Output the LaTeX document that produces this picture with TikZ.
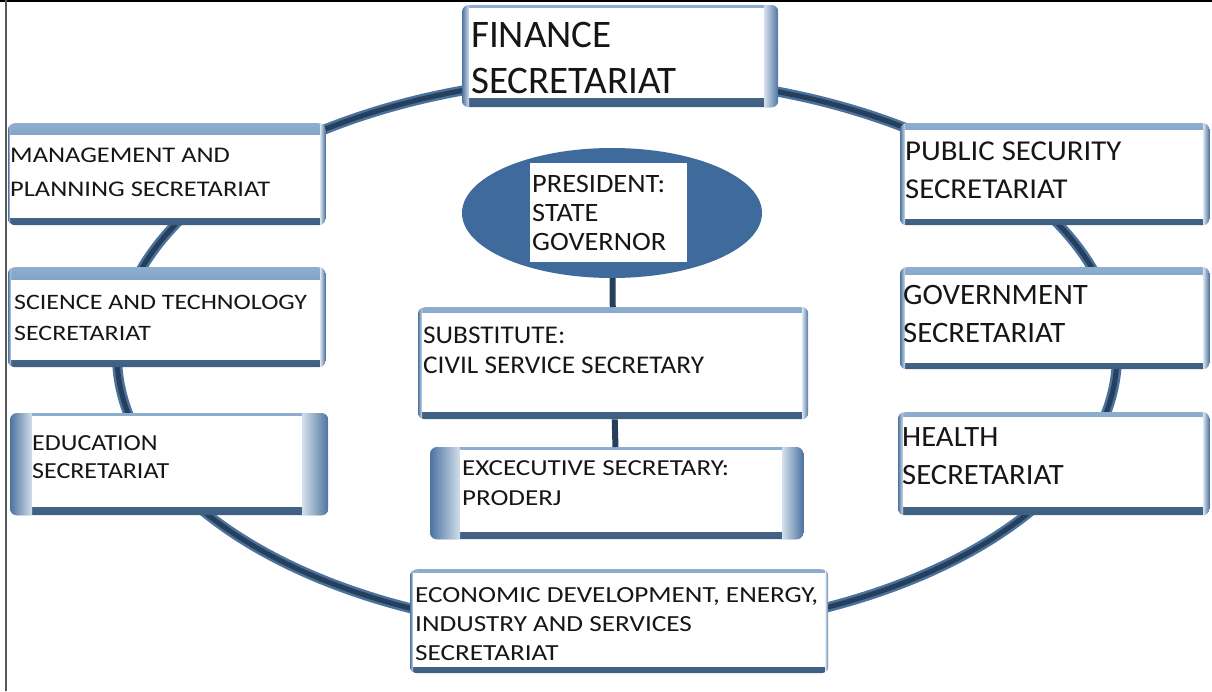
\documentclass[tikz,border=0pt]{standalone}
\usepackage{fontspec}
\setmainfont{Carlito}
\newfontfamily\fa{Carlito}
\newfontfamily\fb[FakeStretch=1.04]{Carlito}
\newfontfamily\fc[FakeStretch=1.07]{Carlito}
\newfontfamily\fd[FakeStretch=1.13]{Carlito}
\newfontfamily\fe[FakeStretch=1.18]{Carlito}
\usetikzlibrary{shapes.geometric,calc}

\definecolor{ringlight}{HTML}{4A729C}
\definecolor{ringdark}{HTML}{253F5C}
\definecolor{frametop}{HTML}{8EAED0}
\definecolor{framebot}{HTML}{3D5E80}
\definecolor{capdark}{HTML}{4D73A0}
\definecolor{caplight}{HTML}{D2DEEA}
\definecolor{presblue}{HTML}{3E6B9C}
\definecolor{ink}{HTML}{161616}

\tikzset{
  secframe/.style={rounded corners=7pt, anchor=north west, inner sep=0pt,
    top color=frametop, bottom color=framebot, draw=none},
  txt/.style={anchor=north west, inner sep=0pt, align=left, text=ink},
  conn/.style={draw=ringdark, line width=6pt},
}

% shaded secretariat box: name, x, y, width, height, left/top/right/bottom rim
\newcommand\secbox[9]{%
  \node[secframe, minimum width=#4pt, minimum height=#5pt] (#1) at (#2,#3) {};
  \begin{scope}
    \clip[rounded corners=7pt] (#1.north west) rectangle (#1.south east);
    \shade[left color=capdark, right color=caplight]
      (#1.north west) rectangle ($(#1.south west)+(#6,0)$);
    \shade[left color=caplight, right color=capdark]
      ($(#1.north east)+(-#8,0)$) rectangle (#1.south east);
  \end{scope}
  \fill[white] ($(#1.north west)+(#6,#7)$) rectangle ($(#1.south east)+(-#8,-#9)$);
}

\begin{document}
\begin{tikzpicture}[x=1pt, y=-1pt]
\useasboundingbox (0,0) rectangle (1212,691);

% page frame
\draw[black, line width=1.5pt] (0,0.75) -- (1212,0.75);
\draw[gray!70!black, line width=2pt] (5.5,0) -- (5.5,691);

% ring linking the secretariats
\draw[ringlight, line width=10pt] (617,355) ellipse [x radius=500, y radius=278];
\draw[ringdark, line width=5pt] (617,355) ellipse [x radius=500, y radius=278];

% president
\node[ellipse, fill=presblue, minimum width=300pt, minimum height=130pt, inner sep=0pt] (pres) at (612,213) {};
\node[fill=white, anchor=north west, inner sep=0pt, minimum width=157pt, minimum height=99pt] (presbg) at (530,163) {};

% boxes
\secbox{fin}{462}{5}{316}{102}{7}{3}{14}{9}
\secbox{mgt}{8}{123}{317}{102}{2}{12}{5}{7}
\secbox{sci}{8}{267}{317}{100}{3}{13}{5}{7}
\secbox{edu}{10}{413}{318}{102}{22}{3}{26}{8}
\secbox{pub}{900}{123}{309}{102}{5}{7}{6}{6}
\secbox{gov}{900}{267}{309}{102}{5}{8}{6}{6}
\secbox{hea}{898}{412}{311}{103}{5}{5}{6}{8}
\secbox{sub}{418}{307}{390}{112}{4}{6}{6}{7}
\secbox{exe}{430}{447}{373}{92}{30}{3}{21}{7}
\secbox{eco}{410}{569}{418}{104}{3}{4}{3}{6}

% hierarchy connectors
\draw[conn] (pres) -- (sub);
\draw[conn] (sub) -- (exe);

% labels
\node[txt, font=\fa\fontsize{39}{46}\selectfont] (fin-t) at (471,22) {FINANCE\\SECRETARIAT};
\node[txt, font=\fe\fontsize{22.4}{34}\selectfont] (mgt-t) at (10,148) {MANAGEMENT AND\\PLANNING SECRETARIAT};
\node[txt, font=\fe\fontsize{22}{31}\selectfont] (sci-t) at (14,295) {SCIENCE AND TECHNOLOGY\\SECRETARIAT};
\node[txt, font=\fd\fontsize{23}{28}\selectfont] (edu-t) at (32,435) {EDUCATION\\SECRETARIAT};
\node[txt, font=\fc\fontsize{28.8}{38}\selectfont] (pub-t) at (905,142) {PUBLIC SECURITY\\SECRETARIAT};
\node[txt, font=\fb\fontsize{29.6}{38}\selectfont] (gov-t) at (903,285) {GOVERNMENT\\SECRETARIAT};
\node[txt, font=\fb\fontsize{29.5}{38}\selectfont] (hea-t) at (902,427) {HEALTH\\SECRETARIAT};
\node[txt, font=\fc\fontsize{26.5}{29}\selectfont] (pres-t) at (532,175) {PRESIDENT:\\STATE\\GOVERNOR};
\node[txt, font=\fc\fontsize{25.5}{30}\selectfont] (sub-t) at (423,327) {SUBSTITUTE:\\CIVIL SERVICE SECRETARY};
\node[txt, font=\fe\fontsize{22.9}{30}\selectfont] (exe-t) at (462,460) {EXCECUTIVE SECRETARY:\\PRODERJ};
\node[txt, font=\fe\fontsize{23.06}{29}\selectfont] (eco-t) at (415,587) {ECONOMIC DEVELOPMENT, ENERGY,\\INDUSTRY AND SERVICES\\SECRETARIAT};
\end{tikzpicture}
\end{document}
